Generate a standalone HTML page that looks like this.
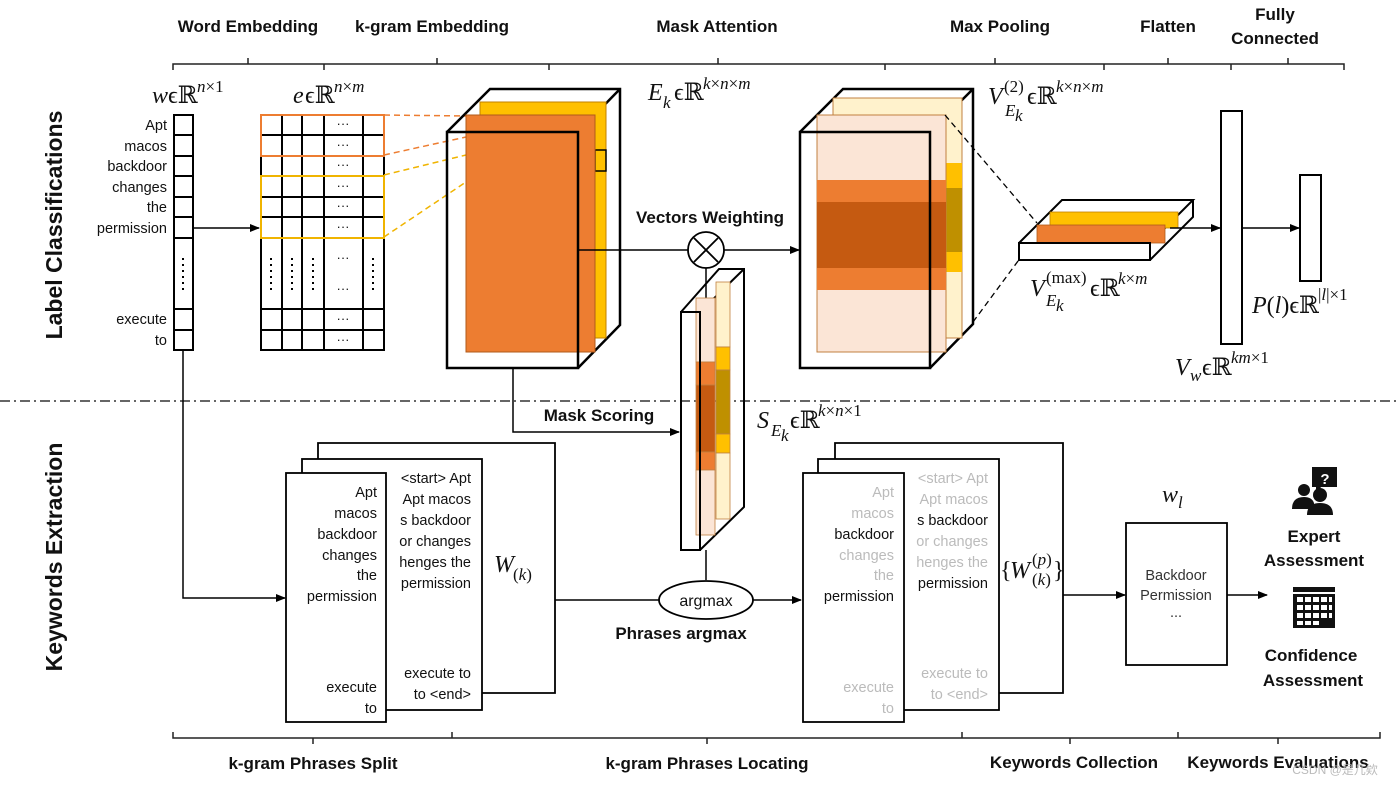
<!DOCTYPE html>
<html><head><meta charset="utf-8"><style>
html,body{margin:0;padding:0;background:#fff;}
svg{display:block;}
.h{font-family:"Liberation Sans",sans-serif;font-weight:bold;font-size:17px;fill:#111;}
.w{font-family:"Liberation Sans",sans-serif;font-size:14.5px;fill:#111;}
.g{font-family:"Liberation Sans",sans-serif;font-size:14.5px;fill:#bbb;}
.m{font-family:"Liberation Serif",serif;font-style:italic;font-size:24px;fill:#111;}
.mr{font-family:"Liberation Serif","DejaVu Serif",serif;font-style:normal;font-size:24px;fill:#111;}
.s{font-family:"Liberation Serif",serif;font-style:italic;font-size:17px;fill:#111;}
.sr{font-family:"Liberation Serif",serif;font-style:normal;font-size:17px;fill:#111;}
</style></head><body>
<svg width="1399" height="785" viewBox="0 0 1399 785" xmlns="http://www.w3.org/2000/svg">
<defs>
<marker id="a" markerWidth="10" markerHeight="8" refX="9" refY="4" orient="auto" markerUnits="userSpaceOnUse"><path d="M0,0 L10,4 L0,8 z" fill="#000"/></marker>
</defs>
<rect width="1399" height="785" fill="#fff"/>

<text class="h" x="248" y="32" text-anchor="middle">Word Embedding</text>
<text class="h" x="432" y="32" text-anchor="middle">k-gram Embedding</text>
<text class="h" x="717" y="32" text-anchor="middle">Mask Attention</text>
<text class="h" x="1000" y="32" text-anchor="middle">Max Pooling</text>
<text class="h" x="1168" y="32" text-anchor="middle">Flatten</text>
<text class="h" x="1275" y="20" text-anchor="middle">Fully</text>
<text class="h" x="1275" y="44" text-anchor="middle">Connected</text>
<g stroke="#222" stroke-width="1.5" fill="none">
<path d="M173,70 V64 H1344 V70"/>
<path d="M248,64 V58 M324,64 V70 M437,64 V58 M549,64 V70 M718,64 V58 M885,64 V70 M995,64 V58 M1104,64 V70 M1168,64 V58 M1231,64 V70 M1288,64 V58"/>
</g>

<text class="h" style="font-size:23px" transform="translate(62,225) rotate(-90)" text-anchor="middle">Label Classifications</text>
<text class="h" style="font-size:23px" transform="translate(62,557) rotate(-90)" text-anchor="middle">Keywords Extraction</text>

<line x1="0" y1="401" x2="1399" y2="401" stroke="#333" stroke-width="1.5" stroke-dasharray="10,4,2,4"/>

<g stroke="#000" stroke-width="2" fill="#fff">
<rect x="174" y="115" width="19" height="235"/>
<path d="M174,135H193M174,156H193M174,176H193M174,197H193M174,217H193M174,238H193M174,309H193M174,330H193" fill="none"/>
</g>
<line x1="183" y1="258" x2="183" y2="290" stroke="#000" stroke-width="2" stroke-dasharray="2,4"/>
<g class="w" text-anchor="end">
<text x="167" y="130">Apt</text><text x="167" y="151">macos</text><text x="167" y="171">backdoor</text>
<text x="167" y="192">changes</text><text x="167" y="212">the</text><text x="167" y="233">permission</text>
<text x="167" y="324">execute</text><text x="167" y="345">to</text>
</g>
<text class="m" x="152" y="103">w</text><text class="mr" x="168" y="103">ϵℝ</text><text class="s" x="197" y="92">n<tspan class="sr">×1</tspan></text>
<line x1="193" y1="228" x2="259" y2="228" stroke="#000" stroke-width="1.5" marker-end="url(#a)"/>

<g stroke="#000" stroke-width="2" fill="none">
<rect x="261" y="115" width="123" height="235" fill="#fff"/>
<path d="M282,115V350M302,115V350M324,115V350M363,115V350"/>
<path d="M261,135H384M261,156H384M261,176H384M261,197H384M261,217H384M261,238H384M261,309H384M261,330H384"/>
</g>
<rect x="261" y="115" width="123" height="41" fill="none" stroke="#ed7d31" stroke-width="2"/>
<rect x="261" y="176" width="123" height="62" fill="none" stroke="#f0b400" stroke-width="2"/>
<g font-family="Liberation Sans" font-size="13" fill="#111" text-anchor="middle">
<text x="343" y="128">···</text><text x="343" y="149">···</text><text x="343" y="169">···</text>
<text x="343" y="190">···</text><text x="343" y="210">···</text><text x="343" y="231">···</text>
<text x="343" y="262">···</text><text x="343" y="293">···</text>
<text x="343" y="323">···</text><text x="343" y="344">···</text>
</g>
<g stroke="#000" stroke-width="2" stroke-dasharray="2,4">
<line x1="271" y1="258" x2="271" y2="290"/><line x1="292" y1="258" x2="292" y2="290"/>
<line x1="313" y1="258" x2="313" y2="290"/><line x1="373" y1="258" x2="373" y2="290"/>
</g>
<text class="m" x="293" y="103">e</text><text class="mr" x="305" y="103">ϵℝ</text><text class="s" x="334" y="92">n<tspan class="sr">×</tspan>m</text>
<g stroke-width="1.5" stroke-dasharray="6,4">
<line x1="384" y1="115" x2="466" y2="116" stroke="#ed7d31"/>
<line x1="384" y1="155" x2="466" y2="137" stroke="#ed7d31"/>
<line x1="384" y1="175" x2="466" y2="155" stroke="#f0b400"/>
<line x1="384" y1="237" x2="466" y2="182" stroke="#f0b400"/>
</g>

<path d="M447,132 L490,89 H620 V325 L578,368 M578,132 L620,89" fill="none" stroke="#000" stroke-width="2.5"/>
<rect x="480" y="102" width="126" height="236" fill="#ffc000" stroke="#c08000" stroke-width="1"/>
<rect x="595" y="150" width="11" height="21" fill="none" stroke="#000" stroke-width="1.5"/>
<rect x="466" y="115" width="129" height="237" fill="#ed7d31" stroke="#b05a1a" stroke-width="1"/>
<rect x="447" y="132" width="131" height="236" fill="none" stroke="#000" stroke-width="2.5"/>
<text class="m" x="648" y="100">E</text><text class="s" x="663" y="108">k</text><text class="mr" x="674" y="100">ϵℝ</text><text class="s" x="703" y="89">k<tspan class="sr">×</tspan>n<tspan class="sr">×</tspan>m</text>

<line x1="578" y1="250" x2="688" y2="250" stroke="#000" stroke-width="1.5"/>
<circle cx="706" cy="250" r="18" fill="#fff" stroke="#000" stroke-width="1.8"/>
<path d="M694,238 L718,262 M718,238 L694,262" stroke="#000" stroke-width="1.8"/>
<text class="h" x="710" y="223" text-anchor="middle">Vectors Weighting</text>
<line x1="724" y1="250" x2="799" y2="250" stroke="#000" stroke-width="1.5" marker-end="url(#a)"/>
<line x1="706" y1="268" x2="706" y2="300" stroke="#000" stroke-width="1.5"/>

<path d="M513,368 V432 H679" fill="none" stroke="#000" stroke-width="1.5" marker-end="url(#a)"/>
<text class="h" x="599" y="421" text-anchor="middle">Mask Scoring</text>

<path d="M681,312 L719,269 H744 V507 L700,550" fill="none" stroke="#000" stroke-width="2"/>
<line x1="700" y1="312" x2="744" y2="269" stroke="#000" stroke-width="2"/>
<g stroke="#c08040" stroke-width="0.8">
<rect x="716" y="282" width="14" height="65" fill="#fff2cc"/>
<rect x="716" y="347" width="14" height="23" fill="#ffc000"/>
<rect x="716" y="370" width="14" height="64" fill="#bf9000"/>
<rect x="716" y="434" width="14" height="19" fill="#ffc000"/>
<rect x="716" y="453" width="14" height="66" fill="#fff2cc"/>
<rect x="696" y="298" width="19" height="64" fill="#fbe5d6"/>
<rect x="696" y="362" width="19" height="23" fill="#ed7d31"/>
<rect x="696" y="385" width="19" height="67" fill="#c55a11"/>
<rect x="696" y="452" width="19" height="18" fill="#ed7d31"/>
<rect x="696" y="470" width="19" height="65" fill="#fbe5d6"/>
</g>
<rect x="681" y="312" width="19" height="238" fill="none" stroke="#000" stroke-width="2"/>
<text class="m" x="757" y="428">S</text><text class="s" x="771" y="436" font-size="15">E</text><text class="s" x="781" y="441" font-size="11">k</text><text class="mr" x="790" y="428">ϵℝ</text><text class="s" x="818" y="416">k<tspan class="sr">×</tspan>n<tspan class="sr">×1</tspan></text>
<line x1="706" y1="550" x2="706" y2="580" stroke="#000" stroke-width="1.5"/>

<path d="M800,132 L843,89 H973 V324 L930,368 M930,132 L973,89" fill="none" stroke="#000" stroke-width="2.5"/>
<g stroke="#c08040" stroke-width="1">
<rect x="833" y="98" width="129" height="240" fill="#fff2cc"/>
<rect x="946" y="163" width="16" height="25" fill="#ffc000" stroke="none"/>
<rect x="946" y="188" width="16" height="64" fill="#bf9000" stroke="none"/>
<rect x="946" y="252" width="16" height="20" fill="#ffc000" stroke="none"/>
<rect x="817" y="115" width="129" height="237" fill="#fbe5d6"/>
<rect x="817" y="180" width="129" height="22" fill="#ed7d31" stroke="none"/>
<rect x="817" y="202" width="129" height="66" fill="#c55a11" stroke="none"/>
<rect x="817" y="268" width="129" height="22" fill="#ed7d31" stroke="none"/>
</g>
<rect x="800" y="132" width="130" height="236" fill="none" stroke="#000" stroke-width="2.5"/>
<text class="m" x="988" y="104">V</text><text class="sr" x="1004" y="92">(2)</text><text class="s" x="1005" y="116" font-size="15">E</text><text class="s" x="1015" y="121" font-size="11">k</text><text class="mr" x="1027" y="104">ϵℝ</text><text class="s" x="1056" y="92">k<tspan class="sr">×</tspan>n<tspan class="sr">×</tspan>m</text>

<g stroke="#000" stroke-width="1.3" stroke-dasharray="6,4">
<line x1="945" y1="115" x2="1037" y2="223"/>
<line x1="973" y1="322" x2="1021" y2="257"/>
</g>

<path d="M1019,243 L1062,200 H1193 L1150,243 M1193,200 V217 L1150,260" fill="none" stroke="#000" stroke-width="2"/>
<rect x="1050" y="212" width="128" height="16" fill="#ffc000" stroke="#c08000" stroke-width="0.8"/>
<rect x="1037" y="225" width="128" height="18" fill="#ed7d31" stroke="#b05a1a" stroke-width="0.8"/>
<rect x="1019" y="243" width="131" height="17" fill="#fff" stroke="#000" stroke-width="2"/>
<text class="m" x="1030" y="296">V</text><text class="sr" x="1046" y="283">(max)</text><text class="s" x="1046" y="306" font-size="15">E</text><text class="s" x="1056" y="311" font-size="11">k</text><text class="mr" x="1090" y="296">ϵℝ</text><text class="s" x="1118" y="284">k<tspan class="sr">×</tspan>m</text>

<line x1="1170" y1="228" x2="1220" y2="228" stroke="#000" stroke-width="1.5" marker-end="url(#a)"/>
<rect x="1221" y="111" width="21" height="233" fill="#fff" stroke="#000" stroke-width="2"/>
<line x1="1242" y1="228" x2="1299" y2="228" stroke="#000" stroke-width="1.5" marker-end="url(#a)"/>
<rect x="1300" y="175" width="21" height="106" fill="#fff" stroke="#000" stroke-width="2"/>
<text class="m" x="1252" y="313">P<tspan class="mr">(</tspan>l<tspan class="mr">)ϵℝ</tspan></text><text class="sr" x="1318" y="300">|<tspan class="s">l</tspan>|×1</text>
<text class="m" x="1175" y="375">V</text><text class="s" x="1190" y="381">w</text><text class="mr" x="1202" y="375">ϵℝ</text><text class="s" x="1231" y="363">km<tspan class="sr">×1</tspan></text>

<path d="M183,350 V598 H285" fill="none" stroke="#000" stroke-width="1.5" marker-end="url(#a)"/>
<path d="M318,459 V443 H555 V693 H482" fill="none" stroke="#000" stroke-width="1.8"/>
<rect x="302" y="459" width="180" height="251" fill="#fff" stroke="#000" stroke-width="1.8"/>
<g class="w" text-anchor="end">
<text x="471" y="483">&lt;start&gt; Apt</text><text x="471" y="504">Apt macos</text>
<text x="471" y="525">s backdoor</text><text x="471" y="546">or changes</text>
<text x="471" y="567">henges the</text><text x="471" y="588">permission</text>
<text x="471" y="678">execute to</text><text x="471" y="699">to &lt;end&gt;</text>
</g>
<rect x="286" y="473" width="100" height="249" fill="#fff" stroke="#000" stroke-width="1.8"/>
<g class="w" text-anchor="end">
<text x="377" y="497">Apt</text><text x="377" y="518">macos</text><text x="377" y="539">backdoor</text>
<text x="377" y="560">changes</text><text x="377" y="580">the</text><text x="377" y="601">permission</text>
<text x="377" y="692">execute</text><text x="377" y="713">to</text>
</g>
<text class="m" x="494" y="572">W</text><text class="sr" x="513" y="580">(<tspan class="s">k</tspan>)</text>

<line x1="555" y1="600" x2="659" y2="600" stroke="#000" stroke-width="1.5"/>
<ellipse cx="706" cy="600" rx="47" ry="19" fill="#fff" stroke="#000" stroke-width="1.8"/>
<text x="706" y="606" text-anchor="middle" font-family="Liberation Sans" font-size="16" fill="#111">argmax</text>
<text class="h" x="681" y="639" text-anchor="middle">Phrases argmax</text>
<line x1="753" y1="600" x2="801" y2="600" stroke="#000" stroke-width="1.5" marker-end="url(#a)"/>

<path d="M835,459 V443 H1063 V693 H999" fill="none" stroke="#000" stroke-width="1.8"/>
<rect x="818" y="459" width="181" height="251" fill="#fff" stroke="#000" stroke-width="1.8"/>
<g class="g" text-anchor="end">
<text x="988" y="483">&lt;start&gt; Apt</text><text x="988" y="504">Apt macos</text>
<text x="988" y="525" fill="#111">s backdoor</text><text x="988" y="546">or changes</text>
<text x="988" y="567">henges the</text><text x="988" y="588" fill="#111">permission</text>
<text x="988" y="678">execute to</text><text x="988" y="699">to &lt;end&gt;</text>
</g>
<rect x="803" y="473" width="101" height="249" fill="#fff" stroke="#000" stroke-width="1.8"/>
<g class="g" text-anchor="end">
<text x="894" y="497">Apt</text><text x="894" y="518">macos</text><text x="894" y="539" fill="#111">backdoor</text>
<text x="894" y="560">changes</text><text x="894" y="580">the</text><text x="894" y="601" fill="#111">permission</text>
<text x="894" y="692">execute</text><text x="894" y="713">to</text>
</g>
<text class="mr" x="1000" y="578">{</text><text class="m" x="1010" y="578">W</text><text class="sr" x="1032" y="565">(<tspan class="s">p</tspan>)</text><text class="sr" x="1032" y="585">(<tspan class="s">k</tspan>)</text><text class="mr" x="1053" y="578">}</text>
<line x1="1063" y1="595" x2="1125" y2="595" stroke="#000" stroke-width="1.5" marker-end="url(#a)"/>

<text class="m" x="1162" y="502">w</text><text class="s" x="1178" y="508">l</text>
<rect x="1126" y="523" width="101" height="142" fill="#fff" stroke="#000" stroke-width="1.8"/>
<g font-family="Liberation Sans" font-size="14.5" fill="#333" text-anchor="middle">
<text x="1176" y="580">Backdoor</text><text x="1176" y="600">Permission</text><text x="1176" y="617">...</text>
</g>
<line x1="1227" y1="595" x2="1267" y2="595" stroke="#000" stroke-width="1.5" marker-end="url(#a)"/>

<g fill="#111">
<rect x="1312" y="467" width="25" height="20"/>
<path d="M1316,486 L1316,493 L1322,486 z"/>
<circle cx="1304" cy="490" r="6"/>
<path d="M1292,509 Q1292,497 1304,497 Q1312,497 1314,503 L1314,509 z"/>
<circle cx="1320" cy="495" r="7"/>
<path d="M1307,515 Q1307,503 1320,503 Q1333,503 1333,515 z"/>
<rect x="1293" y="587" width="42" height="5"/>
<rect x="1293" y="594" width="42" height="34"/>
</g>
<text x="1325" y="484" text-anchor="middle" font-family="Liberation Sans" font-weight="bold" font-size="15" fill="#fff">?</text>
<g fill="#fff">
<rect x="1297" y="597" width="6" height="5"/><rect x="1305" y="597" width="6" height="5"/><rect x="1313" y="597" width="6" height="5"/><rect x="1321" y="597" width="6" height="5"/><rect x="1329" y="597" width="3" height="5"/>
<rect x="1297" y="605" width="6" height="5"/><rect x="1305" y="605" width="6" height="5"/><rect x="1313" y="605" width="6" height="5"/><rect x="1321" y="605" width="6" height="5"/><rect x="1329" y="605" width="3" height="5"/>
<rect x="1297" y="613" width="6" height="5"/><rect x="1305" y="613" width="6" height="5"/><rect x="1313" y="613" width="6" height="5"/><rect x="1321" y="613" width="6" height="5"/><rect x="1329" y="613" width="3" height="5"/>
<rect x="1297" y="621" width="6" height="4"/><rect x="1305" y="621" width="6" height="4"/><rect x="1313" y="621" width="6" height="4"/>
</g>
<g class="h" text-anchor="middle">
<text x="1314" y="542">Expert</text><text x="1314" y="566">Assessment</text>
<text x="1311" y="661">Confidence</text><text x="1313" y="686">Assessment</text>
</g>

<g stroke="#222" stroke-width="1.5" fill="none">
<path d="M173,732 V738 H1380 V732"/>
<path d="M313,738 V744 M452,738 V732 M707,738 V744 M962,738 V732 M1070,738 V744 M1178,738 V732 M1278,738 V744"/>
</g>
<g class="h" text-anchor="middle">
<text x="313" y="769">k-gram Phrases Split</text>
<text x="707" y="769">k-gram Phrases Locating</text>
<text x="1074" y="768">Keywords Collection</text>
<text x="1278" y="768">Keywords Evaluations</text>
</g>
<text x="1335" y="774" text-anchor="middle" font-family="Liberation Sans, Noto Sans CJK SC, sans-serif" font-size="12" fill="#bbb">CSDN @是几欸</text>
</svg>
</body></html>
